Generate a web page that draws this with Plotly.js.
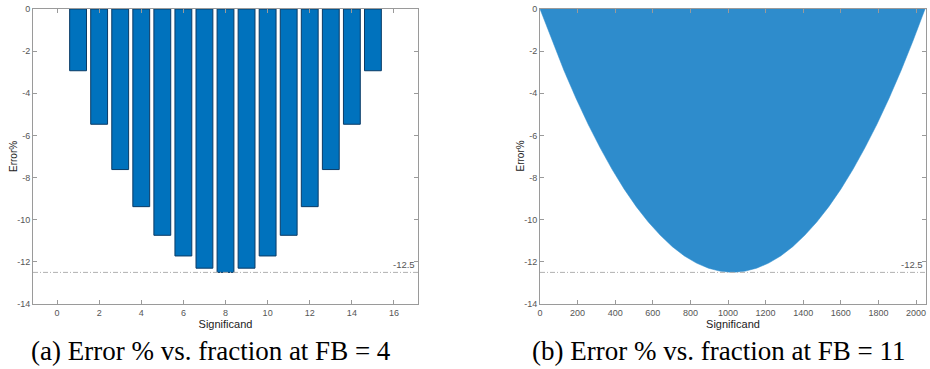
<!DOCTYPE html>
<html>
<head>
<meta charset="utf-8">
<script src="https://cdn.plot.ly/plotly-3.0.1.min.js"></script>
<style>
html,body{margin:0;padding:0;background:#fff;}
#chart{width:930px;height:369px;}
</style>
</head>
<body>
<div id="chart"></div>
<script>
// ---- data ----
const sigA = [1, 2, 3, 4, 5, 6, 7, 8, 9, 10, 11, 12, 13, 14, 15];
const errA = [-2.93, -5.47, -7.62, -9.38, -10.74, -11.72, -12.30, -12.50, -12.30, -11.72, -10.74, -9.38, -7.62, -5.47, -2.93];

const sigB = [0, 64, 128, 192, 256, 320, 384, 448, 512, 576, 640, 704, 768, 832, 896, 960, 1024,
              1088, 1152, 1216, 1280, 1344, 1408, 1472, 1536, 1600, 1664, 1728, 1792, 1856, 1920, 1984, 2048];
const errB = [0, -1.51, -2.93, -4.25, -5.47, -6.59, -7.62, -8.55, -9.38, -10.11, -10.74, -11.28, -11.72, -12.06, -12.30, -12.45, -12.50,
              -12.45, -12.30, -12.06, -11.72, -11.28, -10.74, -10.11, -9.38, -8.55, -7.62, -6.59, -5.47, -4.25, -2.93, -1.51, 0];

const refLevel = -12.5;
const refLabel = "-12.5";
const yTickVals = [-14, -12, -10, -8, -6, -4, -2, 0];
const yTickText = ["-14", "-12", "-10", "-8", "-6", "-4", "-2", "0"];
const xTickValsA = [0, 2, 4, 6, 8, 10, 12, 14, 16];
const xTickValsB = [0, 200, 400, 600, 800, 1000, 1200, 1400, 1600, 1800, 2000];
const captionA = "(a) Error % vs. fraction at FB = 4";
const captionB = "(b) Error % vs. fraction at FB = 11";
const xTitle = "Significand";
const yTitle = "Error%";

// ---- styles ----
const axisGray = "#9a9a9a";
const tickFont = {family: "Liberation Sans, Arial, sans-serif", size: 9, color: "#555"};
const titleFont = {family: "Liberation Sans, Arial, sans-serif", size: 11, color: "#222"};
const capFont = {family: "Liberation Serif, Times New Roman, serif", size: 27, color: "#000"};

const traces = [
  {
    type: "bar", x: sigA, y: errA, width: 0.8,
    marker: {color: "#0072BD", line: {color: "#0a3b66", width: 1}},
    xaxis: "x", yaxis: "y", hoverinfo: "x+y"
  },
  {
    type: "scatter", mode: "lines", x: sigB, y: errB, fill: "tozeroy",
    fillcolor: "#2e8ccc", line: {color: "#2e8ccc", width: 0.5},
    xaxis: "x2", yaxis: "y2", hoverinfo: "x+y"
  }
];

function xAxis(domain, range, tickvals, anchor) {
  return {
    domain: domain, range: range, tickvals: tickvals, anchor: anchor,
    showline: true, linecolor: axisGray, linewidth: 1, mirror: "allticks",
    ticks: "inside", ticklen: 4, tickcolor: axisGray, tickwidth: 1,
    showgrid: false, zeroline: false, tickfont: tickFont,
    title: {text: xTitle, font: titleFont, standoff: 0}, automargin: false
  };
}
function yAxis(anchor) {
  return {
    domain: [0, 1], range: [-14, 0], tickvals: yTickVals, ticktext: yTickText, anchor: anchor,
    showline: true, linecolor: axisGray, linewidth: 1, mirror: "allticks",
    ticks: "inside", ticklen: 4, tickcolor: axisGray, tickwidth: 1,
    showgrid: false, zeroline: false, tickfont: tickFont, automargin: false
  };
}

const refLine = (xr, yr) => ({
  type: "line", xref: xr + " domain", yref: yr, x0: 0, x1: 1, y0: refLevel, y1: refLevel,
  line: {color: "#b0b0b0", width: 1, dash: "5px,2px,1px,2px"}
});

const yTitleAnn = (xpx) => ({
  xref: "paper", yref: "paper", x: xpx / 930, y: 0.5, xanchor: "center", yanchor: "middle",
  text: yTitle, textangle: -90, showarrow: false,
  font: {family: titleFont.family, size: 10, color: "#222"}
});

const layout = {
  width: 930, height: 369,
  margin: {l: 0, r: 0, t: 9, b: 65},
  paper_bgcolor: "#fff", plot_bgcolor: "#fff",
  showlegend: false,
  bargap: 0,
  xaxis: xAxis([33/930, 418/930], [-1.14, 17.14], xTickValsA, "y"),
  yaxis: yAxis("x"),
  xaxis2: xAxis([540/930, 926/930], [0, 2053], xTickValsB, "y2"),
  yaxis2: yAxis("x2"),
  shapes: [refLine("x", "y"), refLine("x2", "y2")],
  annotations: [
    {xref: "x domain", yref: "y", x: 1, y: refLevel, xanchor: "right", yanchor: "bottom", text: refLabel,
     showarrow: false, font: {family: tickFont.family, size: 9.5, color: "#555"}, xshift: -1, yshift: 0},
    {xref: "x2 domain", yref: "y2", x: 1, y: refLevel, xanchor: "right", yanchor: "bottom", text: refLabel,
     showarrow: false, font: {family: tickFont.family, size: 9.5, color: "#555"}, xshift: -1, yshift: 0},
    yTitleAnn(13.5),
    yTitleAnn(520),
    {xref: "paper", yref: "paper", x: 211/930, y: 0, yshift: -47, xanchor: "center", yanchor: "middle",
     text: captionA, showarrow: false, font: capFont},
    {xref: "paper", yref: "paper", x: 718/930, y: 0, yshift: -47, xanchor: "center", yanchor: "middle",
     text: captionB, showarrow: false, font: capFont}
  ]
};

Plotly.newPlot("chart", traces, layout, {staticPlot: true, displayModeBar: false});
</script>
</body>
</html>
